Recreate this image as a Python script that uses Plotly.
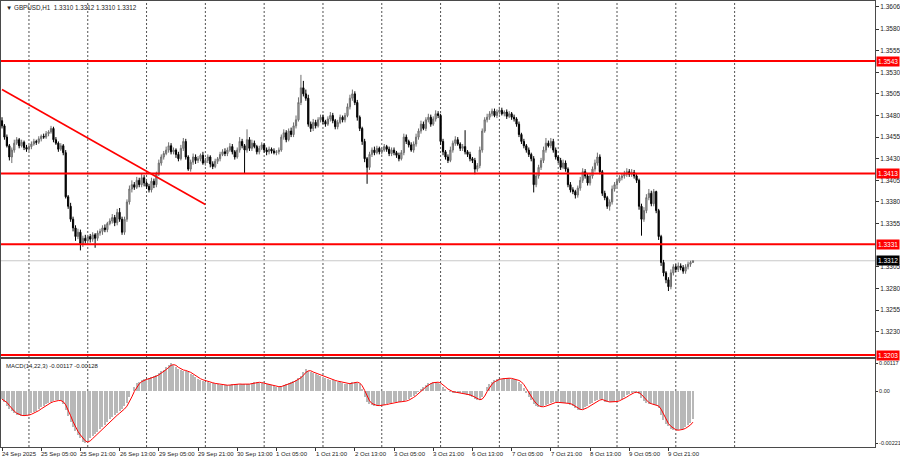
import plotly.graph_objects as go

# ---------------- data ----------------
first_open = 1.3474
closes = [
 1.3468,1.3455,1.3445,1.3432,1.3440,1.3448,1.3452,1.3445,1.3449,1.3443,
 1.3441,1.3444,1.3447,1.3450,1.3449,1.3453,1.3456,1.3455,1.3459,1.3461,
 1.3465,1.3452,1.3448,1.3441,1.3445,1.3437,1.3386,1.3375,1.3360,1.3350,
 1.3340,1.3345,1.3332,1.3338,1.3335,1.3340,1.3337,1.3342,1.3338,1.3344,
 1.3346,1.3350,1.3348,1.3355,1.3358,1.3362,1.3356,1.3368,1.3360,1.3345,
 1.3360,1.3380,1.3395,1.3400,1.3397,1.3405,1.3400,1.3408,1.3402,1.3398,
 1.3394,1.3404,1.3400,1.3412,1.3425,1.3432,1.3436,1.3440,1.3445,1.3438,
 1.3440,1.3435,1.3430,1.3442,1.3450,1.3432,1.3418,1.3426,1.3432,1.3428,
 1.3430,1.3434,1.3425,1.3428,1.3432,1.3424,1.3421,1.3427,1.3430,1.3435,
 1.3438,1.3436,1.3440,1.3444,1.3438,1.3432,1.3440,1.3450,1.3445,1.3440,
 1.3452,1.3442,1.3448,1.3444,1.3438,1.3442,1.3446,1.3440,1.3438,1.3441,
 1.3439,1.3437,1.3438,1.3440,1.3455,1.3460,1.3452,1.3462,1.3458,1.3468,
 1.3475,1.3495,1.3512,1.3505,1.3500,1.3470,1.3465,1.3472,1.3468,1.3475,
 1.3478,1.3473,1.3470,1.3476,1.3480,1.3474,1.3467,1.3472,1.3478,1.3475,
 1.3480,1.3490,1.3500,1.3505,1.3495,1.3478,1.3465,1.3450,1.3430,1.3420,
 1.3435,1.3440,1.3437,1.3442,1.3438,1.3440,1.3444,1.3441,1.3436,1.3440,
 1.3437,1.3434,1.3430,1.3437,1.3455,1.3450,1.3446,1.3440,1.3447,1.3455,
 1.3462,1.3470,1.3465,1.3475,1.3478,1.3470,1.3476,1.3482,1.3480,1.3450,
 1.3438,1.3432,1.3428,1.3440,1.3448,1.3452,1.3447,1.3442,1.3444,1.3438,
 1.3435,1.3430,1.3428,1.3418,1.3422,1.3440,1.3462,1.3475,1.3478,1.3482,
 1.3485,1.3480,1.3484,1.3486,1.3482,1.3484,1.3479,1.3482,1.3478,1.3476,
 1.3470,1.3458,1.3450,1.3445,1.3440,1.3435,1.3430,1.3400,1.3410,1.3420,
 1.3428,1.3440,1.3448,1.3445,1.3450,1.3440,1.3432,1.3428,1.3420,1.3425,
 1.3418,1.3400,1.3394,1.3392,1.3388,1.3396,1.3405,1.3415,1.3410,1.3402,
 1.3410,1.3418,1.3425,1.3432,1.3415,1.3390,1.3385,1.3375,1.3380,1.3395,
 1.3400,1.3404,1.3408,1.3410,1.3412,1.3415,1.3412,1.3414,1.3410,1.3405,
 1.3375,1.3360,1.3370,1.3385,1.3390,1.3378,1.3392,1.3370,1.3340,1.3310,
 1.3298,1.3290,1.3282,1.3298,1.3305,1.3302,1.3306,1.3304,1.3300,1.3305,
 1.3308,1.3310,1.3312]

# wick lengths in pips above/below the candle body
upper_wick_pips = [
 4,2,3,2,3,4,3,2,3,2, 3,2,3,3,2,3,2,3,3,2, 3,2,3,2,3,2,3,2,4,3,
 3,4,3,3,4,2,3,3,2,3, 3,3,4,2,3,4,3,4,5,3, 3,3,4,5,3,4,3,5,3,2,
 3,4,3,3,4,3,3,4,4,3, 3,2,3,4,4,3,2,3,4,3, 3,2,4,3,3,2,3,3,2,3,
 3,4,3,4,3,2,3,5,3,2, 12,3,4,3,2,3,3,2,3,3, 2,3,2,3,3,4,3,3,4,4,
 5,6,15,8,5,4,3,4,3,3, 3,3,2,3,4,3,2,3,3,2, 3,4,4,5,3,3,2,2,3,2,
 3,3,4,3,2,3,3,2,3,3, 3,2,3,3,4,3,2,3,3,4, 3,4,3,3,4,3,3,4,3,2,
 3,2,3,4,3,4,3,2,3,19, 2,3,2,3,3,4,3,3,4,3, 3,3,3,4,3,2,3,3,2,3,
 2,3,2,3,2,3,2,3,4,3, 3,4,6,3,4,3,3,2,3,4, 3,2,3,3,2,3,4,4,3,3,
 3,3,4,5,3,2,3,2,3,4, 3,3,3,3,4,4,3,4,3,2, 2,3,4,4,5,3,3,1,2,2,
 3,2,3,4,3,3,4,3,3,3, 3,2,0]
lower_wick_pips = [
 3,3,2,4,7,3,2,3,2,3, 3,2,3,2,3,2,3,2,2,3, 2,3,2,3,2,3,2,3,3,4,
 5,3,8,4,3,3,4,3,11,3, 3,4,3,3,2,3,4,3,3,3, 3,3,3,4,3,2,3,3,4,3,
 3,3,4,3,2,3,3,2,3,3, 3,4,3,2,3,3,2,3,3,4, 3,3,2,3,3,4,3,2,3,3,
 2,3,3,2,3,3,2,3,3,27, 3,3,3,2,3,3,2,3,4,3, 3,2,3,3,2,3,3,2,3,3,
 3,2,3,3,3,3,4,3,3,2, 3,3,3,2,3,3,3,3,2,3, 3,2,3,3,3,4,3,4,4,19,
 3,3,3,2,3,3,2,3,3,3, 3,3,3,2,3,3,3,2,3,3, 3,3,2,3,3,3,2,3,3,4,
 4,3,3,2,3,3,2,3,3,3, 3,3,3,6,3,3,3,2,3,3, 3,2,3,3,2,3,3,2,3,3,
 3,3,3,3,3,3,3,9,3,3, 3,3,3,2,3,3,3,3,3,2, 3,3,3,3,4,3,3,3,3,3,
 3,3,3,3,3,3,3,3,5,3, 3,3,2,3,3,3,3,3,3,3, 4,19,3,3,3,3,3,3,4,4,
 4,4,5,3,3,3,3,3,3,3, 3,3,0]

# MACD(14,22,3) main line, in units of 0.00001
macd_main_e5 = [
 -35,-48,-62,-75,-87,-95,-101,-104,-105,-105,
 -103,-99,-95,-90,-83,-77,-68,-62,-55,-49,
 -45,-42,-40,-40,-42,-55,-80,-105,-130,-155,
 -172,-188,-200,-215,-221,-215,-200,-192,-184,-175,
 -162,-153,-143,-130,-121,-112,-103,-94,-86,-78,
 -65,-50,-25,0,18,33,40,46,50,52,
 54,58,63,68,75,83,90,100,110,117,
 110,100,92,89,87,86,80,72,66,58,
 52,47,44,40,38,35,32,30,29,27,
 25,24,25,27,29,30,30,29,28,28,
 29,31,34,37,38,36,33,31,30,28,
 24,20,17,18,22,26,30,33,38,43,
 48,55,65,80,92,85,81,76,72,68,
 64,60,56,52,48,45,42,39,37,34,
 31,30,32,38,40,34,28,5,-25,-45,
 -55,-60,-62,-62,-62,-60,-58,-55,-52,-50,
 -48,-46,-46,-45,-43,-40,-35,-27,-20,-12,
 -3,8,18,26,32,36,38,38,36,28,
 17,8,0,-3,-5,-6,-8,-9,-10,-13,
 -16,-20,-26,-33,-38,-40,-25,0,18,30,
 40,46,50,52,53,54,55,54,52,49,
 46,40,30,12,-9,-25,-38,-55,-63,-68,
 -68,-65,-60,-55,-50,-48,-48,-49,-50,-50,
 -50,-52,-58,-65,-73,-80,-81,-77,-70,-64,
 -57,-50,-44,-38,-33,-38,-45,-48,-47,-46,
 -46,-42,-37,-33,-26,-18,-12,-6,-4,-5,
 -12,-28,-42,-50,-55,-57,-59,-60,-72,-100,
 -125,-140,-150,-160,-166,-168,-166,-163,-160,-153,
 -145,-135,-117]

time_labels = ["24 Sep 2025", "25 Sep 05:00", "25 Sep 21:00", "26 Sep 13:00",
               "29 Sep 05:00", "29 Sep 21:00", "30 Sep 13:00", "1 Oct 05:00",
               "1 Oct 21:00", "2 Oct 13:00", "3 Oct 05:00", "3 Oct 21:00",
               "6 Oct 13:00", "7 Oct 05:00", "7 Oct 21:00", "8 Oct 13:00",
               "9 Oct 05:00", "9 Oct 21:00"]
label_bars = [0, 16, 32, 48, 64, 80, 96, 112, 128, 144, 160, 176, 192, 208, 224, 240, 256, 272]
grid_bars = [11, 35, 59, 83, 107, 131, 155, 179, 203, 227, 251, 275, 299]

price_ticks = [1.3606, 1.3580, 1.3555, 1.3530, 1.3505, 1.3480, 1.3455, 1.3430,
               1.3405, 1.3380, 1.3355, 1.3305, 1.3280, 1.3255, 1.3230]
levels = [1.3543, 1.3413, 1.3331, 1.3203]
bid = 1.3312
trend_bars = [0, 83]
trend_prices = [1.3510, 1.3377]
macd_ticks = [0.00117, 0.0, -0.00221]
macd_tick_text = ["0.00117", "0.00", "-0.00221"]

# ---------------- derived ----------------
n = len(closes)
idx = list(range(n))
opens = [first_open] + closes[:-1]
highs = [max(o, c) + u * 0.0001 for o, c, u in zip(opens, closes, upper_wick_pips)]
lows = [min(o, c) - d * 0.0001 for o, c, d in zip(opens, closes, lower_wick_pips)]
macd_main = [v * 1e-5 for v in macd_main_e5]
signal = [sum(macd_main[max(0, i - 2):i + 1]) / len(macd_main[max(0, i - 2):i + 1]) for i in range(n)]

FONT = "Liberation Sans"
XR = [-0.41, 356.3]

fig = go.Figure()
fig.add_trace(go.Candlestick(
    x=idx, open=opens, high=highs, low=lows, close=closes,
    xaxis="x", yaxis="y", whiskerwidth=0,
    increasing=dict(line=dict(color="#6e6e6e", width=1), fillcolor="#b4b4b4"),
    decreasing=dict(line=dict(color="#000000", width=1), fillcolor="#000000"),
    showlegend=False, hoverinfo="skip"))
fig.add_trace(go.Scatter(x=trend_bars, y=trend_prices, mode="lines",
                         line=dict(color="#ff0000", width=1.6),
                         xaxis="x", yaxis="y", showlegend=False, hoverinfo="skip"))
fig.add_trace(go.Bar(x=idx, y=macd_main, xaxis="x2", yaxis="y2", width=0.5,
                     marker=dict(color="#b8b8b8", line=dict(width=0)),
                     showlegend=False, hoverinfo="skip"))
fig.add_trace(go.Scatter(x=idx, y=signal, mode="lines", xaxis="x2", yaxis="y2",
                         line=dict(color="#ff0000", width=1),
                         showlegend=False, hoverinfo="skip"))

shapes = []
for g in grid_bars:
    for yr in ("y domain", "y2 domain"):
        shapes.append(dict(type="line", xref="x" if yr == "y domain" else "x2", yref=yr,
                           x0=g, x1=g, y0=0, y1=1, layer="below",
                           line=dict(color="#505050", width=1, dash="2px,2px")))
shapes.append(dict(type="line", xref="x domain", yref="y", x0=0, x1=1, y0=bid, y1=bid,
                   layer="below", line=dict(color="#c8c8c8", width=1)))
for lv in levels:
    shapes.append(dict(type="line", xref="x domain", yref="y", x0=0, x1=1, y0=lv, y1=lv,
                       line=dict(color="#ff0000", width=2)))

ann = []
for lv in levels:
    ann.append(dict(xref="paper", x=1, xanchor="left", xshift=1, yref="y", y=lv,
                    text=f"{lv:.4f}", showarrow=False, bgcolor="#ff0000", borderpad=1,
                    font=dict(family=FONT, size=6.5, color="white")))
ann.append(dict(xref="paper", x=1, xanchor="left", xshift=1, yref="y", y=bid,
                text=f"{bid:.4f}", showarrow=False, bgcolor="#000000", borderpad=1,
                font=dict(family=FONT, size=6.5, color="white")))
for b, t in zip(label_bars, time_labels):
    ann.append(dict(xref="x2", x=b, xanchor="left", xshift=-2, yref="paper", y=0,
                    yanchor="top", yshift=-2, text=t, showarrow=False,
                    font=dict(family=FONT, size=6, color="#222")))
ann.append(dict(xref="paper", x=0, xanchor="left", xshift=3, yref="paper", y=1,
                yanchor="top", yshift=-1, showarrow=False,
                text="▼ GBPUSD,H1  1.3310 1.3312 1.3310 1.3312",
                font=dict(family=FONT, size=6.3, color="#222")))
ann.append(dict(xref="paper", x=0, xanchor="left", xshift=3, yref="paper", y=0.1973,
                yanchor="top", yshift=-2, showarrow=False,
                text="MACD(14,22,3) -0.00117 -0.00128",
                font=dict(family=FONT, size=6, color="#222")))

axis_common = dict(showline=True, mirror=True, linecolor="#4a4a4a", linewidth=1,
                   showgrid=False, zeroline=False, automargin=False)
fig.update_layout(
    width=900, height=460,
    margin=dict(l=1, r=25, t=1, b=13, autoexpand=False),
    paper_bgcolor="white", plot_bgcolor="white",
    showlegend=False, bargap=0,
    xaxis=dict(domain=[0, 1], anchor="y", range=XR, rangeslider=dict(visible=False),
               showticklabels=False, ticks="", **axis_common),
    yaxis=dict(domain=[0.2018, 1], anchor="x", side="right", range=[1.32007, 1.36124],
               tickvals=price_ticks, ticktext=[f"{v:.4f}" for v in price_ticks],
               ticks="outside", ticklen=3, tickcolor="#333",
               tickfont=dict(family=FONT, size=6.5, color="#222"), **axis_common),
    xaxis2=dict(domain=[0, 1], anchor="y2", range=XR, tickvals=label_bars,
                showticklabels=False, ticks="outside", ticklen=3, tickcolor="#333",
                **axis_common),
    yaxis2=dict(domain=[0, 0.1973], anchor="x2", side="right", range=[-0.00238, 0.00136],
                tickvals=macd_ticks, ticktext=macd_tick_text,
                ticks="outside", ticklen=2, tickcolor="#333",
                tickfont=dict(family=FONT, size=5.5, color="#222"), **axis_common),
    shapes=shapes, annotations=ann,
)

fig.write_html("out.html", config={"displayModeBar": False},
               post_script="document.body.style.margin='0';document.body.style.overflow='hidden';")
